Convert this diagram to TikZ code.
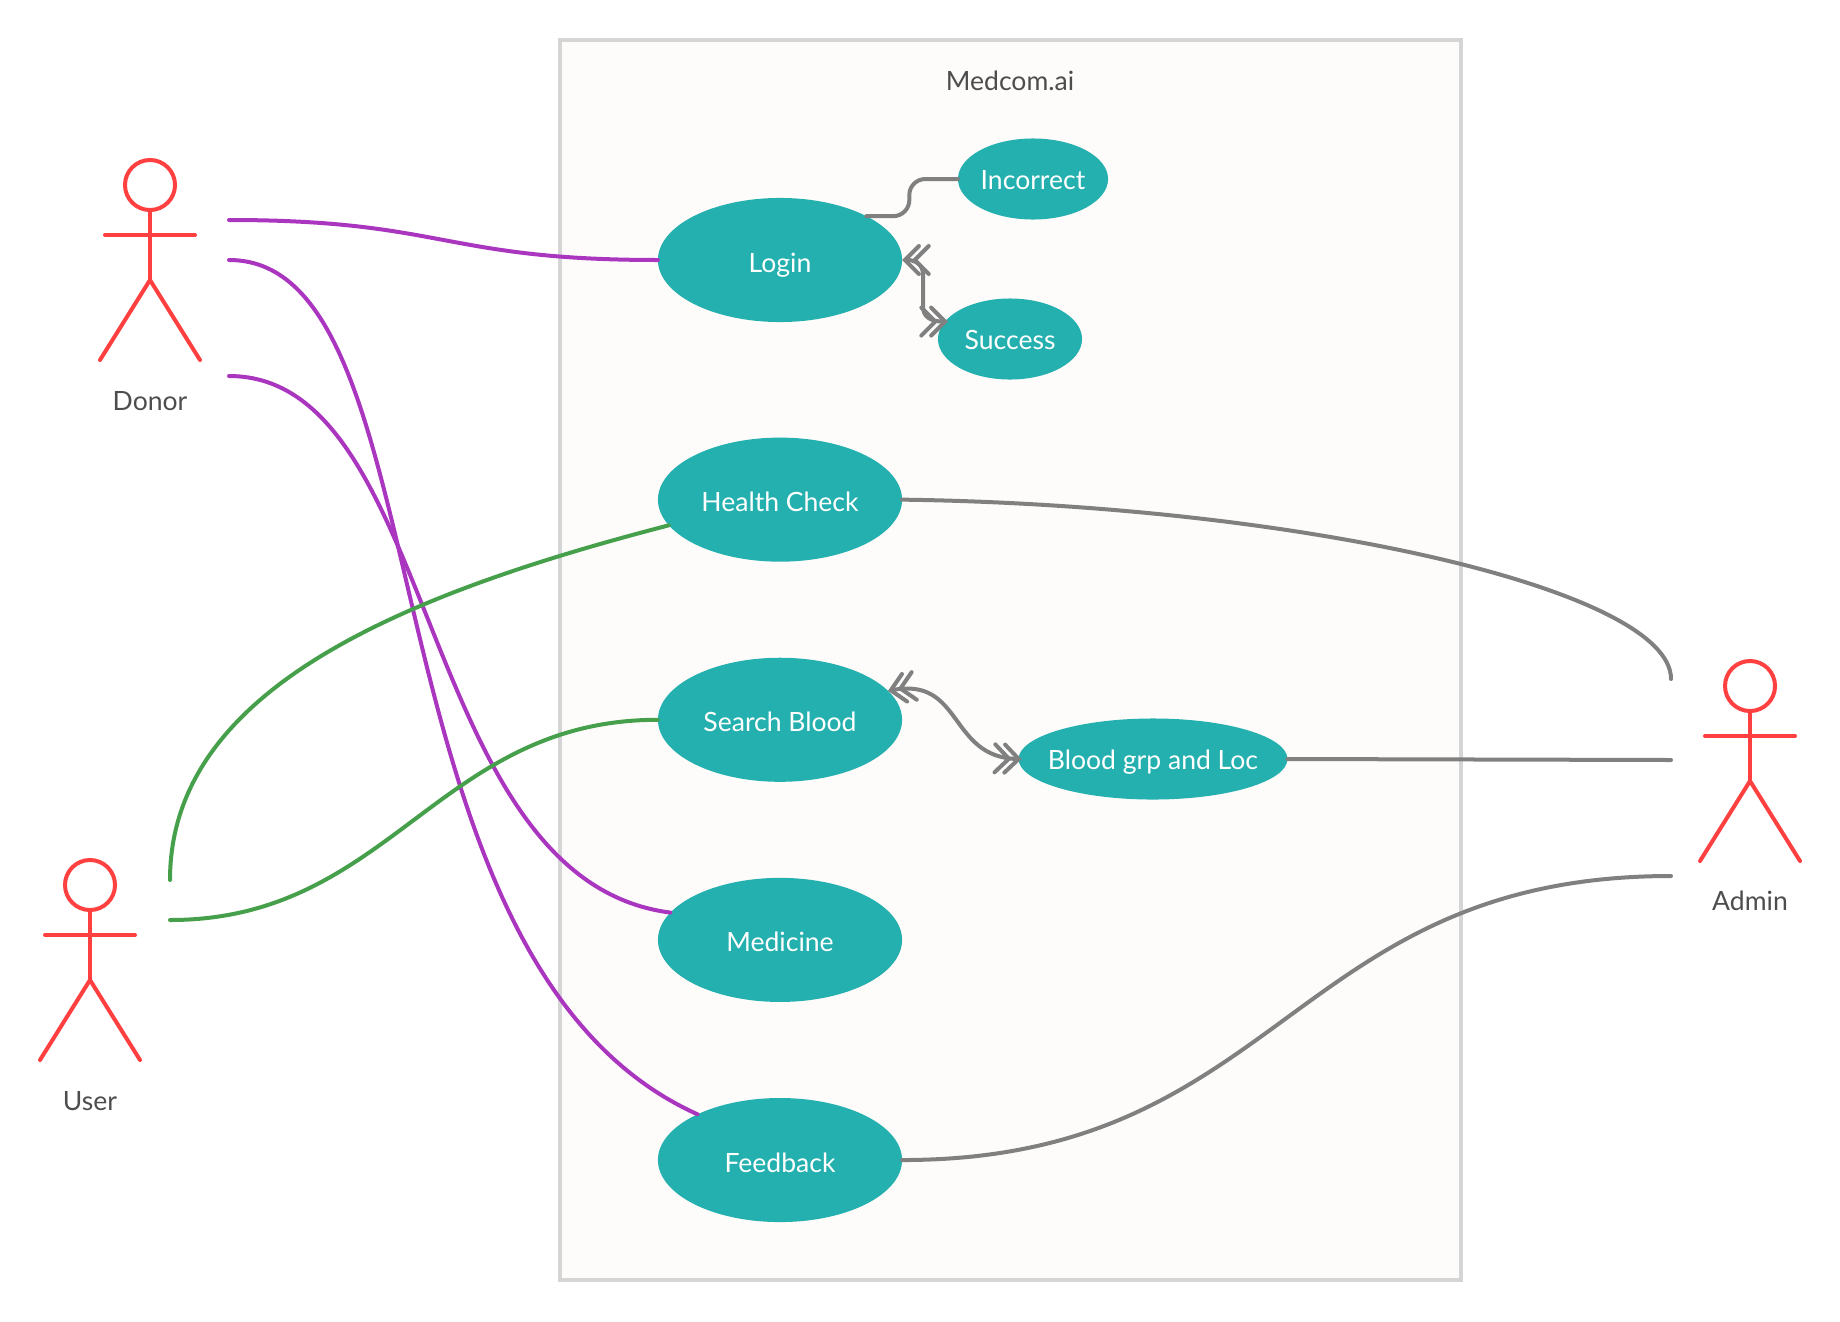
\documentclass[tikz,border=0pt]{standalone}
\usepackage{fontspec}
\setmainfont{Lato}
\usepackage{xcolor}
\usetikzlibrary{shapes.geometric,arrows.meta,positioning}
\definecolor{tealfill}{RGB}{36,176,175}
\definecolor{actorred}{RGB}{255,64,64}
\definecolor{linkpurple}{RGB}{170,54,192}
\definecolor{linkgreen}{RGB}{70,160,75}
\definecolor{linkgray}{RGB}{128,128,128}
\definecolor{framegray}{RGB}{213,213,213}
\definecolor{framefill}{RGB}{253,252,251}
\definecolor{textgray}{RGB}{77,77,77}
\tikzset{
  usecase/.style={ellipse,fill=tealfill,text=white,inner sep=0pt,outer sep=0pt,minimum width=2.44cm,
              minimum height=1.24cm,align=center,text height=0.24cm,text depth=0pt,font=\fontsize{7.55}{9}\selectfont},
  subcase/.style={usecase,minimum height=0.81cm,text height=0.2cm},
  frame/.style={rectangle,draw=framegray,line width=0.04cm,fill=framefill,anchor=north west,
              minimum width=9cm,minimum height=12.39cm,inner sep=0pt,outer sep=0pt},
  title/.style={text=textgray,font=\fontsize{7.55}{9}\selectfont},
  actorname/.style={text=textgray,font=\fontsize{7.55}{9}\selectfont},
  stick/.style={draw=actorred,line width=0.04cm,line cap=round},
  flowp/.style={draw=linkpurple,line width=0.04cm,line cap=round},
  flowg/.style={draw=linkgreen,line width=0.04cm,line cap=round},
  flow/.style={draw=linkgray,line width=0.04cm,line cap=round},
  both/.style={flow,shorten >=-0.03cm,{Straight Barb[length=1.4mm,width=2.8mm,line cap=round]Straight Barb[length=1.4mm,width=2.8mm,line cap=round,sep=-0.9mm]}-{Straight Barb[length=1.4mm,width=2.8mm,line cap=round,sep=-0.9mm]Straight Barb[length=1.4mm,width=2.8mm,line cap=round]}},
  actor/.pic={
    \node[circle,stick,minimum size=0.5cm,inner sep=0pt] (-head) at (0,0) {};
    \draw[stick] (-head.south) -- (0,95);
    \draw[stick] (-45,50) -- (45,50);
    \draw[stick] (-50,175) -- (0,95) -- (50,175);
  },
}
\begin{document}
\begin{tikzpicture}[x=0.01cm,y=-0.01cm]
  \useasboundingbox (0,0) rectangle (1840,1321);
  \node[frame] (system) at (560,40) {};
  \node[title] (systemname) at (1010,80.5) {Medcom.ai};
  % use cases
  \node[usecase] (login) at (780,260) {Login};
  \node[usecase,below=1.155cm of login] (health) {Health Check};
  \node[usecase,below=0.96cm of health] (search) {Search Blood};
  \node[usecase,below=0.96cm of search] (medicine) {Medicine};
  \node[usecase,below=0.96cm of medicine] (feedback) {Feedback};
  \node[subcase,minimum width=1.5cm] (incorrect) at (1033,179) {Incorrect};
  \node[subcase,minimum width=1.44cm] (success) at (1010,339) {Success};
  \node[subcase,minimum width=2.68cm,inner xsep=-0.1cm] (bloodgrp) at (1153,759) {Blood grp and Loc};
  % actors
  \pic (donor) at (150,185) {actor};
  \pic (user) at (90,885) {actor};
  \pic (admin) at (1750,686) {actor};
  \node[actorname] (donorname) at (150,401) {Donor};
  \node[actorname] (username) at (90,1101) {User};
  \node[actorname] (adminname) at (1750,901) {Admin};
  \coordinate (donorA) at (229,220);
  \coordinate (donorB) at (229,260);
  \coordinate (donorC) at (229,376);
  \coordinate (userA) at (170,880);
  \coordinate (userB) at (170,920);
  \coordinate (adminA) at (1671,679);
  \coordinate (adminB) at (1671,760);
  \coordinate (adminC) at (1671,876);
  % links
  \draw[flowp] (donorA) .. controls +(215,0) and +(-215,0) .. (login.west);
  \draw[flowp] (donorB) .. controls (450,260) and (355,960) .. (feedback.151);
  \draw[flowp] (donorC) .. controls (440,376) and (415,880) .. (medicine.166);
  \draw[flowg] (userA) .. controls (170,690) and (400,595) .. (health.193);
  \draw[flowg] (userB) .. controls +(220,0) and +(-220,0) .. (search.west);
  \draw[flow] (health.east) .. controls (1300,505) and (1671,590) .. (adminA);
  \draw[flow] (bloodgrp.east) -- (adminB);
  \draw[flow] (feedback.east) .. controls +(380,0) and +(-380,0) .. (adminC);
  \draw[flow,rounded corners=0.16cm] (login.north east) -- ++(43,0) |- (incorrect.west);
  \draw[both] (login.east) .. controls +(14,0) and +(0,-10) .. ++(21,15) -- ++(0,32) .. controls +(0,10) and +(-14,0) .. (success.165);
  \draw[both] (search.15) .. controls +(75,-14) and +(-70,-2) .. (bloodgrp.west);
\end{tikzpicture}
\end{document}
